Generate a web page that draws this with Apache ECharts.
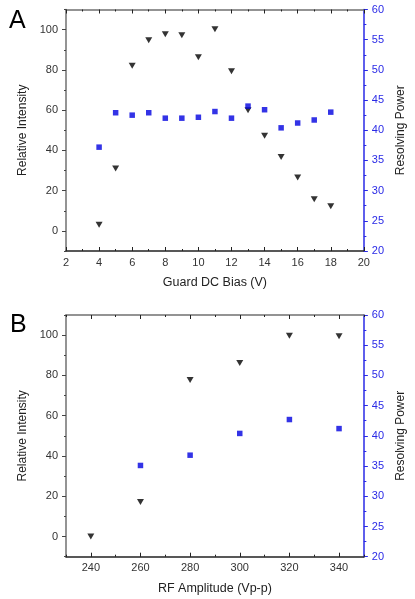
<!DOCTYPE html>
<html><head><meta charset="utf-8">
<script src="https://cdn.jsdelivr.net/npm/echarts@6/dist/echarts.min.js"></script>
<style>html,body{margin:0;padding:0;background:#fff}#c{width:415px;height:599px}</style>
</head><body><div id="c"></div>
<script>
// Panel A data
const biasV = [4,5,6,7,8,9,10,11,12,13,14,15,16,17,18];
const intensityA = [3,31,82,94.7,97.7,97.2,86.3,100.2,79.3,60,47.3,36.7,26.5,15.7,12.2];
const powerA = [37.2,42.9,42.5,42.9,42.0,42.0,42.15,43.1,42.0,44.0,43.4,40.4,41.2,41.7,43.0];
// Panel B data
const rfAmp = [240,260,280,300,320,340];
const intensityB = [0,17.2,77.7,86.2,99.7,99.5];
const rfPowerX = [260,280,300,320,340];
const powerB = [35.1,36.8,40.4,42.7,41.2];
// Tick labels
const leftTicks = [0,20,40,60,80,100];
const rfTicks = [240,260,280,300,320,340];

const FONT = 'Liberation Sans';
const GRAY = '#707070', DARK = '#222', BLUE = '#2a2ae6';
const grids = [
  {left:66, right:49, top:9.5, height:241.5},
  {left:66, right:49, top:315, height:241.7}
];
const lbl = {fontFamily:FONT, fontSize:11, color:'#333'};
function hide(){return {show:false};}

const xAxis = [
  // A bottom
  {type:'value', gridIndex:0, position:'bottom', min:2, max:20, interval:2,
   axisLine:{onZero:false, lineStyle:{color:DARK, width:1.5}},
   axisTick:{inside:true, length:4, lineStyle:{color:DARK}},
   minorTick:{show:true, splitNumber:2, length:2, lineStyle:{color:DARK}},
   axisLabel:Object.assign({margin:6}, lbl), splitLine:hide(),
   name:'Guard DC Bias (V)', nameLocation:'middle', nameGap:25,
   nameTextStyle:{fontFamily:FONT, fontSize:12.5, color:'#222'}},
  // A top
  {type:'value', gridIndex:0, position:'top', min:2, max:20, interval:2,
   axisLine:{onZero:false, lineStyle:{color:GRAY, width:1.5}},
   axisTick:{inside:true, length:4, lineStyle:{color:DARK}},
   minorTick:{show:true, splitNumber:2, length:2, lineStyle:{color:DARK}},
   axisLabel:hide(), splitLine:hide()},
  // B bottom major
  {type:'value', gridIndex:1, position:'bottom', min:230, max:350,
   axisLine:{onZero:false, lineStyle:{color:DARK, width:1.5}},
   axisTick:{inside:true, length:4, customValues:rfTicks, lineStyle:{color:DARK}},
   axisLabel:Object.assign({margin:6, customValues:rfTicks}, lbl), splitLine:hide(),
   name:'RF Amplitude (Vp-p)', nameLocation:'middle', nameGap:25,
   nameTextStyle:{fontFamily:FONT, fontSize:12.5, color:'#222'}},
  // B bottom minor
  {type:'value', gridIndex:1, position:'bottom', min:230, max:350, interval:10,
   axisLine:{show:false, onZero:false},
   axisTick:{inside:true, length:2, lineStyle:{color:DARK}},
   axisLabel:hide(), splitLine:hide()},
  // B top major
  {type:'value', gridIndex:1, position:'top', min:230, max:350,
   axisLine:{onZero:false, lineStyle:{color:GRAY, width:1.5}},
   axisTick:{inside:true, length:4, customValues:rfTicks, lineStyle:{color:DARK}},
   axisLabel:{show:false, customValues:rfTicks}, splitLine:hide()},
  // B top minor
  {type:'value', gridIndex:1, position:'top', min:230, max:350, interval:10,
   axisLine:{show:false, onZero:false},
   axisTick:{inside:true, length:2, lineStyle:{color:DARK}},
   axisLabel:hide(), splitLine:hide()}
];

function yAxesFor(g){
  return [
    {type:'value', gridIndex:g, position:'left', min:-10, max:110,
     axisLine:{show:true, onZero:false, lineStyle:{color:GRAY, width:1.5}},
     axisTick:{show:true, length:4, customValues:leftTicks, lineStyle:{color:'#444'}},
     axisLabel:Object.assign({margin:8, customValues:leftTicks}, lbl), splitLine:hide(),
     name:'Relative Intensity', nameLocation:'middle', nameGap:32,
     nameTextStyle:{fontFamily:FONT, fontSize:12, color:'#222'}},
    {type:'value', gridIndex:g, position:'left', min:-10, max:110, interval:10,
     axisLine:{show:false, onZero:false},
     axisTick:{show:true, length:2, lineStyle:{color:'#444'}},
     axisLabel:hide(), splitLine:hide()},
    {type:'value', gridIndex:g, position:'right', min:20, max:60, interval:5,
     axisLine:{show:true, onZero:false, lineStyle:{color:BLUE, width:1.5}},
     axisTick:{show:true, length:4, lineStyle:{color:BLUE}},
     minorTick:{show:true, splitNumber:2, length:2.5, lineStyle:{color:BLUE}},
     axisLabel:{margin:8, fontFamily:FONT, fontSize:11, color:BLUE}, splitLine:hide(),
     name:'Resolving Power', nameLocation:'middle', nameGap:25, nameRotate:90,
     nameTextStyle:{fontFamily:FONT, fontSize:12, color:'#222'}}
  ];
}
const yAxis = yAxesFor(0).concat(yAxesFor(1));

const tri = {type:'scatter', symbol:'triangle', symbolRotate:180, symbolSize:[7,6],
  itemStyle:{color:'#000'}};
const sq = {type:'scatter', symbol:'rect', symbolSize:5.5, itemStyle:{color:'#0000e0'}};

const series = [
  Object.assign({}, tri, {xAxisIndex:0, yAxisIndex:0, data: biasV.map((x,i)=>[x,intensityA[i]])}),
  Object.assign({}, sq, {xAxisIndex:0, yAxisIndex:2, data: biasV.map((x,i)=>[x,powerA[i]])}),
  Object.assign({}, tri, {xAxisIndex:2, yAxisIndex:3, data: rfAmp.map((x,i)=>[x,intensityB[i]])}),
  Object.assign({}, sq, {xAxisIndex:2, yAxisIndex:5, data: rfPowerX.map((x,i)=>[x,powerB[i]])})
];

const chart = echarts.init(document.getElementById('c'), null, {renderer:'canvas'});
chart.setOption({
  animation:false,
  backgroundColor:'#fff',
  grid:grids,
  xAxis:xAxis,
  yAxis:yAxis,
  series:series,
  graphic:[
    {type:'text', left:9, top:9, style:{text:'A', fontFamily:FONT, fontSize:25, fill:'#000'}},
    {type:'text', left:10, top:313, style:{text:'B', fontFamily:FONT, fontSize:25, fill:'#000'}}
  ]
});
</script></body></html>
